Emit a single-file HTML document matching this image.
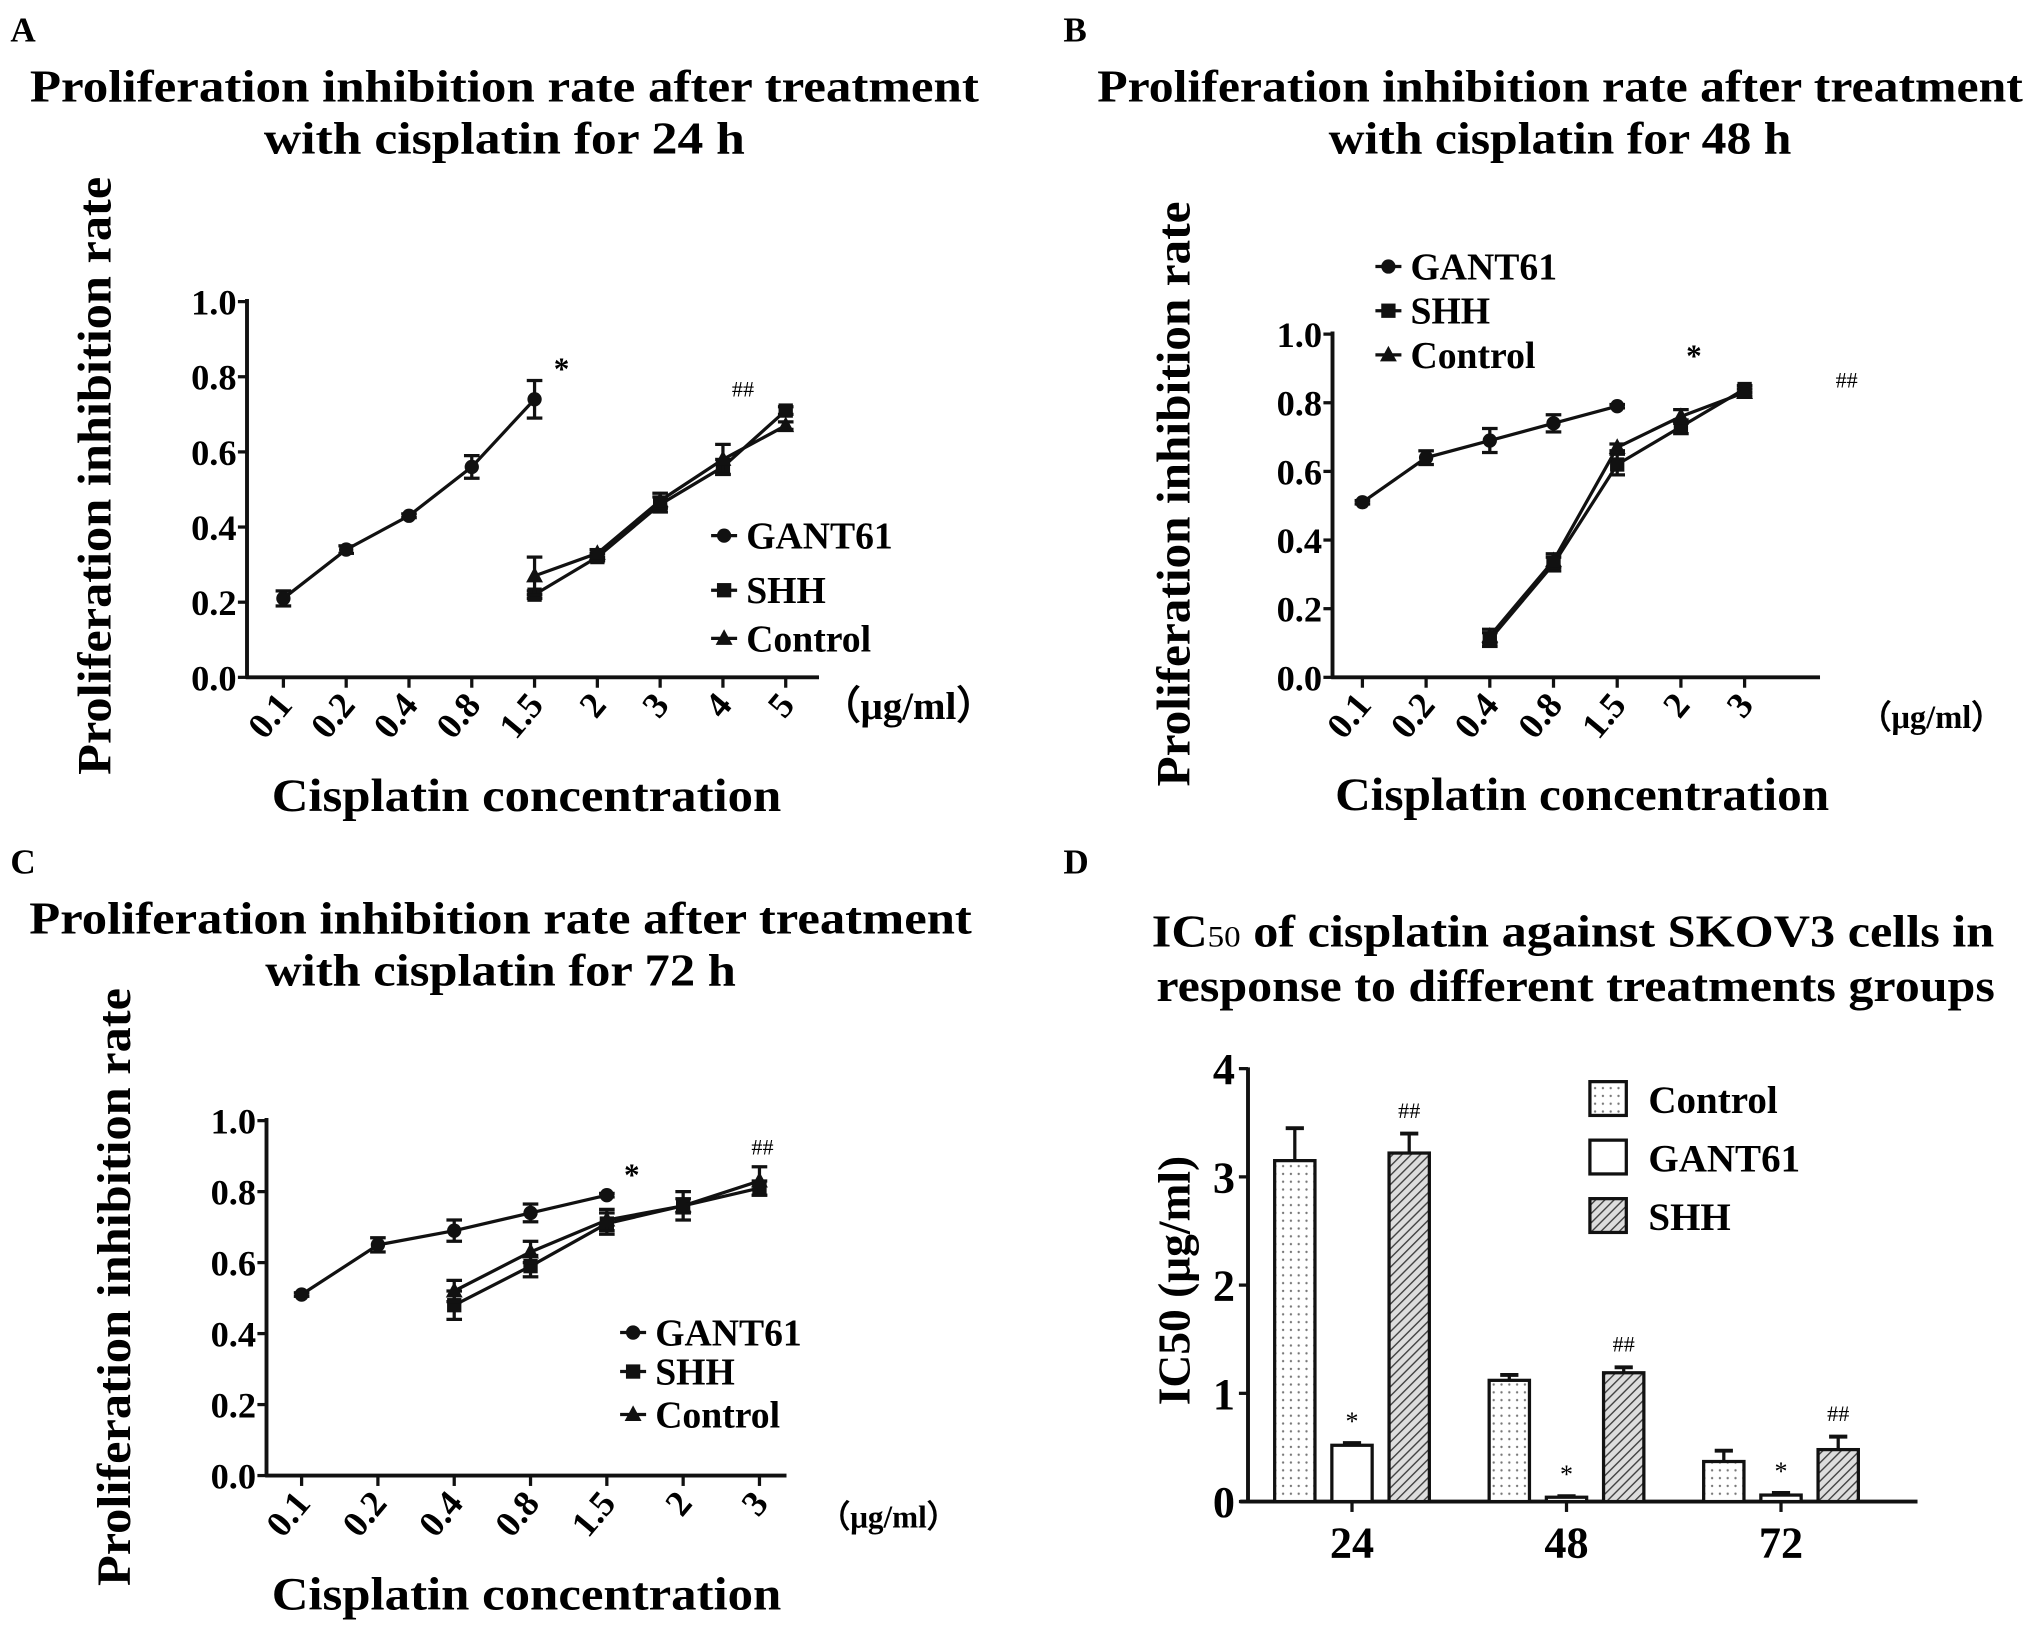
<!DOCTYPE html>
<html><head><meta charset="utf-8"><style>
html,body{margin:0;padding:0;background:#fff;}
svg{display:block;font-family:"Liberation Serif","Times New Roman",serif;font-weight:bold;}
</style></head><body>
<svg id="fig" width="2031" height="1630" viewBox="0 0 1562.3 1253.8" preserveAspectRatio="none" xmlns="http://www.w3.org/2000/svg">
<defs>
<pattern id="dots" width="6" height="6" patternUnits="userSpaceOnUse"><rect width="6" height="6" fill="#fff"/><circle cx="3" cy="3" r="0.9" fill="#777"/></pattern>
<pattern id="hatch" width="5" height="5" patternUnits="userSpaceOnUse" patternTransform="rotate(45)"><rect width="5" height="5" fill="#ddd"/><line x1="0" y1="0" x2="0" y2="5" stroke="#444" stroke-width="2.2"/></pattern>
</defs>
</svg>
<script>
// ---- Panel data ----
const aCats = ["0.1","0.2","0.4","0.8","1.5","2","3","4","5"];
const aGant = [0.21,0.34,0.43,0.56,0.74];
const aGantErr = [0.02,0.01,0.005,0.03,0.05];
const aShh = [0.22,0.32,0.46,0.56,0.71];
const aShhErr = [0.01,0.01,0.02,0.02,0.01];
const aCtrl = [0.27,0.33,0.47,0.58,0.67];
const aCtrlErr = [0.05,0.01,0.02,0.04,0.01];
const aShhStart = 4;

const bCats = ["0.1","0.2","0.4","0.8","1.5","2","3"];
const bGant = [0.51,0.64,0.69,0.74,0.79];
const bGantErr = [0.005,0.02,0.035,0.025,0.005];
const bShh = [0.11,0.33,0.62,0.73,0.84];
const bShhErr = [0.02,0.02,0.03,0.02,0.01];
const bCtrl = [0.12,0.34,0.67,0.76,0.83];
const bCtrlErr = [0.02,0.02,0.01,0.02,0.01];
const bShhStart = 2;

const cCats = ["0.1","0.2","0.4","0.8","1.5","2","3"];
const cGant = [0.51,0.65,0.69,0.74,0.79];
const cGantErr = [0.005,0.02,0.03,0.025,0.005];
const cShh = [0.48,0.59,0.71,0.76,0.81];
const cShhErr = [0.04,0.03,0.03,0.02,0.02];
const cCtrl = [0.52,0.63,0.72,0.76,0.83];
const cCtrlErr = [0.03,0.03,0.03,0.04,0.04];
const cShhStart = 2;

const yTicks = ["0.0","0.2","0.4","0.6","0.8","1.0"];

const dCats = ["24","48","72"];
const dCtrl = [3.15,1.12,0.37];
const dCtrlErr = [0.3,0.05,0.1];
const dGant = [0.52,0.04,0.06];
const dGantErr = [0.02,0.01,0.02];
const dShh = [3.22,1.19,0.48];
const dShhErr = [0.18,0.05,0.12];
const dTicks = ["0","1","2","3","4"];

const NS="http://www.w3.org/2000/svg";
const svg=document.getElementById('fig');
function el(tag,attrs,parent,txt){const e=document.createElementNS(NS,tag);for(const k in attrs)e.setAttribute(k,attrs[k]);if(txt!==undefined)e.textContent=txt;(parent||svg).appendChild(e);return e;}

function marker(g,kind,x,y){
  let m;
  if(kind==='circle'){m=el('circle',{cx:x,cy:y,r:5.5,fill:'#111'},g);}
  else if(kind==='square'){m=el('rect',{x:x-5.5,y:y-5.5,width:11,height:11,fill:'#111'},g);}
  else {m=el('polygon',{points:`${x},${y-7} ${x+6.5},${y+5} ${x-6.5},${y+5}`,fill:'#111'},g);}
  
  
}

function linePanel(p){
  const g=el('g',{},svg);
  
  
  const yS=v=>p.y0+(p.y1-p.y0)*v;
  const xS=i=>p.x0+p.dx*i;
  const lab=el('text',{x:p.lx,y:p.ly,'font-size':27},g,p.letter);
  
  p.title.forEach((t,i)=>{const tt=el('text',{x:p.tx,y:p.ty+i*40,'font-size':35,'text-anchor':'middle',textLength:p.tl[i],lengthAdjust:'spacingAndGlyphs'},g,t);
    });
  const ya=el('line',{x1:p.ax,y1:p.y1-2,x2:p.ax,y2:p.y0+1,stroke:'#111','stroke-width':3},g);
  
  const xa=el('line',{x1:p.ax-1,y1:p.y0,x2:p.xend,y2:p.y0,stroke:'#111','stroke-width':3},g);
  
  yTicks.forEach((t,i)=>{const y=yS(i/5);
    el('line',{x1:p.ax-7,y1:y,x2:p.ax,y2:y,stroke:'#111','stroke-width':2.5},g);
    const tl=el('text',{x:p.ax-8,y:y+10,'font-size':28,'text-anchor':'end'},g,t);
    });
  p.cats.forEach((c,i)=>{const x=xS(i);
    el('line',{x1:x,y1:p.y0,x2:x,y2:p.y0+8,stroke:'#111','stroke-width':2.5},g);
    const tl=el('text',{x:x+8,y:p.y0+22,'font-size':28,'text-anchor':'end',transform:`rotate(-50 ${x+8} ${p.y0+22})`},g,c);
    });
  const yt=el('text',{x:0,y:0,'font-size':37,'text-anchor':'middle',transform:`translate(${p.ytx},${p.yty}) rotate(-90)`,textLength:p.ytl,lengthAdjust:'spacingAndGlyphs'},g,'Proliferation inhibition rate');
  
  const xt=el('text',{x:p.xtx,y:p.xty,'font-size':36,'text-anchor':'middle',textLength:p.xtl,lengthAdjust:'spacingAndGlyphs'},g,'Cisplatin concentration');
  
  const un=el('text',{x:p.ux,y:p.uy,'font-size':p.us},g,'（μg/ml）');
  
  const series=[[p.gant,p.gantErr,0,'circle'],[p.shh,p.shhErr,p.start,'square'],[p.ctrl,p.ctrlErr,p.start,'triangle']];
  series.forEach(([vals,errs,st,kind])=>{
    const sg=el('g',{},g);
    
    const pts=vals.map((v,i)=>`${xS(st+i)},${yS(v)}`).join(' ');
    el('polyline',{points:pts,fill:'none',stroke:'#111','stroke-width':2.5},sg);
    vals.forEach((v,i)=>{const x=xS(st+i),e=errs[i];
      el('line',{x1:x,y1:yS(v+e),x2:x,y2:yS(v-e),stroke:'#111','stroke-width':2.5},sg);
      el('line',{x1:x-6,y1:yS(v+e),x2:x+6,y2:yS(v+e),stroke:'#111','stroke-width':2.5},sg);
      el('line',{x1:x-6,y1:yS(v-e),x2:x+6,y2:yS(v-e),stroke:'#111','stroke-width':2.5},sg);
      marker(sg,kind,x,yS(v));});
  });
  const names=['GANT61','SHH','Control'],kinds=['circle','square','triangle'];
  names.forEach((n,i)=>{const lg=el('g',{},g);
    
    const y=p.legY[i];
    el('line',{x1:p.legX-10,y1:y,x2:p.legX+10,y2:y,stroke:'#111','stroke-width':2.5},lg);
    marker(lg,kinds[i],p.legX,y);
    el('text',{x:p.legX+17,y:y+10,'font-size':p.legS},lg,n);});
  const s=el('text',{x:p.sx,y:p.sy,'font-size':24},g,'*');
  const h=el('text',{x:p.hx,y:p.hy,'font-size':17,'font-weight':'normal'},g,'##');
}

linePanel({name:'panel-a',letter:'A',lx:8,ly:32,title:['Proliferation inhibition rate after treatment','with cisplatin for 24 h'],tl:[730,370],tx:388,ty:78,
 ax:190,y0:521,y1:232,x0:218,dx:48.3,xend:630,cats:aCats,gant:aGant,gantErr:aGantErr,shh:aShh,shhErr:aShhErr,ctrl:aCtrl,ctrlErr:aCtrlErr,start:aShhStart,
 ytx:85,yty:366,ytl:460,xtx:405,xty:624,xtl:392,ux:632,uy:553,us:30,legX:557,legY:[412,454,491],legS:29,sx:426,sy:292,hx:563,hy:305});
linePanel({name:'panel-b',letter:'B',lx:818,ly:32,title:['Proliferation inhibition rate after treatment','with cisplatin for 48 h'],tl:[712,356],tx:1200,ty:78,
 ax:1025,y0:521,y1:257,x0:1048,dx:49,xend:1400,cats:bCats,gant:bGant,gantErr:bGantErr,shh:bShh,shhErr:bShhErr,ctrl:bCtrl,ctrlErr:bCtrlErr,start:bShhStart,
 ytx:915,yty:380,ytl:450,xtx:1217,xty:623,xtl:380,ux:1430,uy:560,us:25,legX:1068,legY:[205,239,273],legS:29,sx:1297,sy:282,hx:1412,hy:298});
linePanel({name:'panel-c',letter:'C',lx:8,ly:672,title:['Proliferation inhibition rate after treatment','with cisplatin for 72 h'],tl:[725,362],tx:385,ty:718,
 ax:205,y0:1135,y1:862,x0:232,dx:58.7,xend:605,cats:cCats,gant:cGant,gantErr:cGantErr,shh:cShh,shhErr:cShhErr,ctrl:cCtrl,ctrlErr:cCtrlErr,start:cShhStart,
 ytx:100,yty:990,ytl:460,xtx:405,xty:1238,xtl:392,ux:630,uy:1175,us:24,legX:487,legY:[1025,1055,1088],legS:29,sx:480,sy:912,hx:578,hy:888});

// ---- Panel D ----
(function(){
  const g=el('g',{},svg);
  
  
  const y0=1155,unit=83.25,ax=960;
  const yS=v=>y0-unit*v;
  const lab=el('text',{x:818,y:672,'font-size':27},g,'D');
  
  const t1=el('text',{x:1210,y:728,'font-size':35,'text-anchor':'middle',textLength:648,lengthAdjust:'spacingAndGlyphs'},g);
  
  el('tspan',{},t1,'IC');el('tspan',{'font-size':23,'font-weight':'normal'},t1,'50');el('tspan',{},t1,' of cisplatin against SKOV3 cells in');
  const t2=el('text',{x:1212,y:770,'font-size':35,'text-anchor':'middle',textLength:645,lengthAdjust:'spacingAndGlyphs'},g,'response to different treatments groups');
  
  const ya=el('line',{x1:ax,y1:yS(4)-1,x2:ax,y2:y0,stroke:'#111','stroke-width':3},g);
  
  const xa=el('line',{x1:ax-6,y1:y0,x2:1475,y2:y0,stroke:'#111','stroke-width':3},g);
  
  dTicks.forEach((t,i)=>{const y=yS(i);
    el('line',{x1:ax-7,y1:y,x2:ax,y2:y,stroke:'#111','stroke-width':2.5},g);
    const tl=el('text',{x:ax-10,y:y+12,'font-size':34,'text-anchor':'end'},g,t);
    });
  const yt=el('text',{x:0,y:0,'font-size':35,'text-anchor':'middle',transform:'translate(915,985) rotate(-90)'},g,'IC50 (μg/ml)');
  
  const gx0=1040,gdx=165,off=44,bw=31;
  const series=[[dCtrl,dCtrlErr,'url(#dots)','bar-control',''],[dGant,dGantErr,'#fff','bar-gant61','*'],[dShh,dShhErr,'url(#hatch)','bar-shh','##']];
  dCats.forEach((c,i)=>{const cx=gx0+gdx*i;
    el('line',{x1:cx,y1:y0,x2:cx,y2:y0+8,stroke:'#111','stroke-width':2.5},g);
    const tl=el('text',{x:cx,y:y0+43,'font-size':34,'text-anchor':'middle'},g,c);
    
    series.forEach(([vals,errs,fill,nm,mk],j)=>{
      const x=cx+(j-1)*off,v=vals[i],e=errs[i];
      el('line',{x1:x,y1:yS(v),x2:x,y2:yS(v+e),stroke:'#111','stroke-width':2.5},g);
      el('line',{x1:x-7,y1:yS(v+e),x2:x+7,y2:yS(v+e),stroke:'#111','stroke-width':3},g);
      const b=el('rect',{x:x-bw/2,y:yS(v),width:bw,height:unit*v,fill:fill,stroke:'#111','stroke-width':2.5},g);
      
      if(mk){const m=el('text',{x:x,y:yS(v+e)-(mk==='*'?10:12),'font-size':mk==='*'?20:17,'font-weight':'normal','text-anchor':'middle'},g,mk);
        }
    });
  });
  const ln=['Control','GANT61','SHH'],lf=['url(#dots)','#fff','url(#hatch)'],ly=[845,890,935];
  ln.forEach((n,i)=>{const lg=el('g',{},g);
    
    el('rect',{x:1223,y:ly[i]-13,width:28,height:26,fill:lf[i],stroke:'#111','stroke-width':2.5},lg);
    el('text',{x:1268,y:ly[i]+11,'font-size':30},lg,n);});
})();
</script>
</body></html>
